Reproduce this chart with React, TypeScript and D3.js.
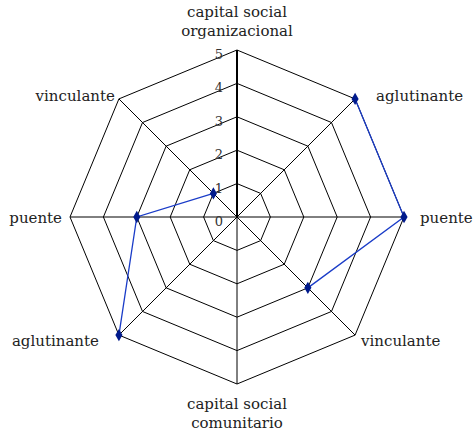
import React from "react";
import * as d3 from "d3";

const axes: string[][] = [
  ["capital social", "organizacional"],
  ["aglutinante"],
  ["puente"],
  ["vinculante"],
  ["capital social", "comunitario"],
  ["aglutinante"],
  ["puente"],
  ["vinculante"],
];
const values: (number | null)[] = [null, 5, 5, 3, null, 5, 3, 1];
const ticks: number[] = [0, 1, 2, 3, 4, 5];

export default function App() {
  const W = 475, H = 436;
  const cx = 237, cy = 217, R = 167;
  const r = d3.scaleLinear().domain([0, 5]).range([0, R]);
  const n = axes.length;
  const ang = (i: number) => (i * 2 * Math.PI) / n;
  const pt = (i: number, v: number): [number, number] => [
    cx + r(v) * Math.sin(ang(i)),
    cy - r(v) * Math.cos(ang(i)),
  ];
  const rings = ticks.filter((t) => t > 0).map((t) => {
    const pts = d3.range(n + 1).map((i) => pt(i % n, t));
    return d3.line()(pts as [number, number][]);
  });
  const seriesLine = d3
    .line<[number, number | null]>()
    .defined((d) => d[1] !== null)
    .x((d) => pt(d[0], d[1] as number)[0])
    .y((d) => pt(d[0], d[1] as number)[1]);
  const data: [number, number | null][] = values.map((v, i) => [i, v]);
  const diamond = d3.symbol(d3.symbolDiamond, 44)();

  const labelPos = (i: number) => {
    const [x, y] = pt(i, 5);
    const a = ang(i);
    const s = Math.sin(a);
    const c = Math.cos(a);
    if (Math.abs(s) < 0.01) {
      return c > 0
        ? { x, y: 17, anchor: "middle" }
        : { x, y: 409, anchor: "middle" };
    }
    const dy = Math.abs(c) < 0.01 ? 6 : c > 0 ? 2 : 11;
    if (s > 0) {
      const off = Math.abs(c) < 0.01 ? 16 : c > 0 ? 21 : 6;
      return { x: x + off, y: y + dy, anchor: "start" };
    }
    const off = Math.abs(c) < 0.01 ? 8 : c > 0 ? 4 : 20;
    return { x: x - off, y: y + dy, anchor: "end" };
  };

  return (
    <svg width={W} height={H} style={{ position: "absolute", left: 0, top: 0 }}>
      <rect width={W} height={H} fill="#fff" />
      {rings.map((d, k) => (
        <path key={k} d={d || ""} fill="none" stroke="#000" strokeWidth={1} />
      ))}
      {axes.map((_, i) => {
        const [x, y] = pt(i, 5);
        return (
          <line
            key={i}
            x1={cx}
            y1={cy}
            x2={x}
            y2={y}
            stroke="#000"
            strokeWidth={i === 0 ? 2 : 1}
          />
        );
      })}
      {ticks.map((t) => (
        <text
          key={t}
          x={cx - 14}
          y={cy - r(t) + 9}
          textAnchor="end"
          fontFamily="DejaVu Serif"
          fontSize={13}
          fill="#333"
        >
          {t}
        </text>
      ))}
      <path d={seriesLine(data) || ""} fill="none" stroke="#1a3cc8" strokeWidth={1.3} />
      {data
        .filter((d) => d[1] !== null)
        .map((d) => {
          const [x, y] = pt(d[0], d[1] as number);
          return (
            <path key={d[0]} d={diamond || ""} transform={`translate(${x},${y})`} fill="#001a8c" />
          );
        })}
      {axes.map((lines, i) => {
        const p = labelPos(i);
        return (
          <text
            key={i}
            x={p.x}
            y={p.y}
            textAnchor={p.anchor as any}
            fontFamily="DejaVu Serif"
            fontSize={15}
            fill="#222"
          >
            {lines.map((l, k) => (
              <tspan key={k} x={p.x} dy={k === 0 ? 0 : 19}>
                {l}
              </tspan>
            ))}
          </text>
        );
      })}
    </svg>
  );
}
